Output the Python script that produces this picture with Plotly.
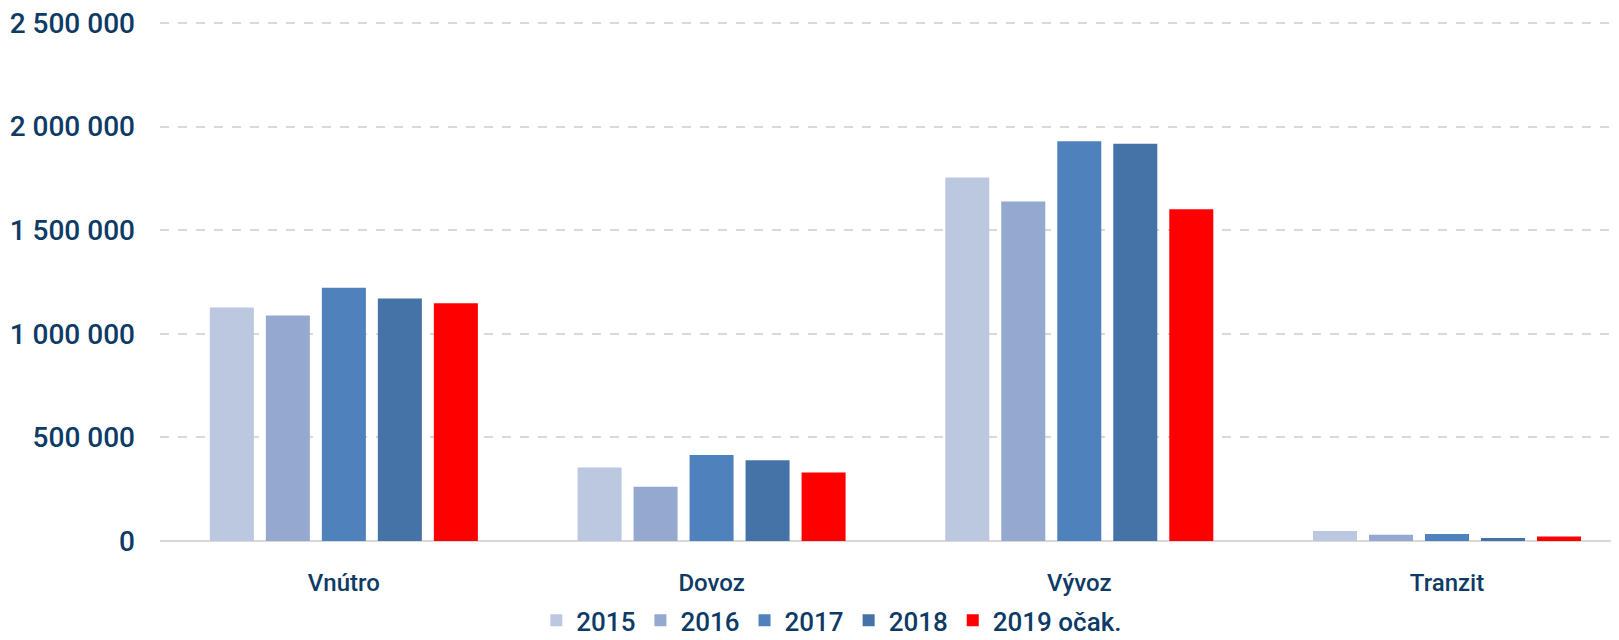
import plotly.graph_objects as go

categories = ["Vnútro", "Dovoz", "Vývoz", "Tranzit"]
series_names = ["2015", "2016", "2017", "2018", "2019 očak."]
v2015 = [1127000, 355000, 1755000, 48000]
v2016 = [1088000, 262000, 1639000, 30000]
v2017 = [1223000, 415000, 1930000, 34000]
v2018 = [1170000, 390000, 1917000, 15000]
v2019 = [1148000, 331000, 1601000, 22000]
colors = ["#BCC8E0", "#95A9D0", "#4F81BD", "#4573A7", "#FF0000"]
tick_vals = [0, 500000, 1000000, 1500000, 2000000, 2500000]

text_color = "#0D3B66"
font_family = "Roboto, Liberation Sans, sans-serif"

fig = go.Figure()
for name, vals, col in zip(series_names, [v2015, v2016, v2017, v2018, v2019], colors):
    fig.add_trace(go.Bar(x=categories, y=vals, name=name, marker_color=col,
                         marker_line_width=0))

fig.update_layout(
    width=1619, height=640,
    paper_bgcolor="white", plot_bgcolor="white",
    margin=dict(l=160, r=8, t=21, b=99, autoexpand=False),
    barmode="group", bargap=0.2385, bargroupgap=0.214,
    separators=", ",
    font=dict(family=font_family, color=text_color, weight=500),
    legend=dict(orientation="h", x=0.463, xanchor="center", y=-0.198, yanchor="bottom",
                font=dict(size=26, color=text_color, weight=500), itemwidth=30,
                traceorder="normal"),
    xaxis=dict(range=[-0.5, 3.446], showgrid=False, showline=False, ticks="",
               ticklabelstandoff=25,
               tickfont=dict(size=24, color=text_color, weight=500)),
    yaxis=dict(range=[0, 2510000], tickvals=tick_vals, tickformat=",d",
               showgrid=True, gridcolor="#D9D9D9", gridwidth=2, griddash="dash",
               zeroline=True, zerolinecolor="#D9D9D9", zerolinewidth=2,
               showline=False, ticks="", ticklabelstandoff=24,
               tickfont=dict(size=28, color=text_color, weight=500)),
)

fig.write_html("out.html", config={"displayModeBar": False},
               post_script="document.body.style.margin='0';")
